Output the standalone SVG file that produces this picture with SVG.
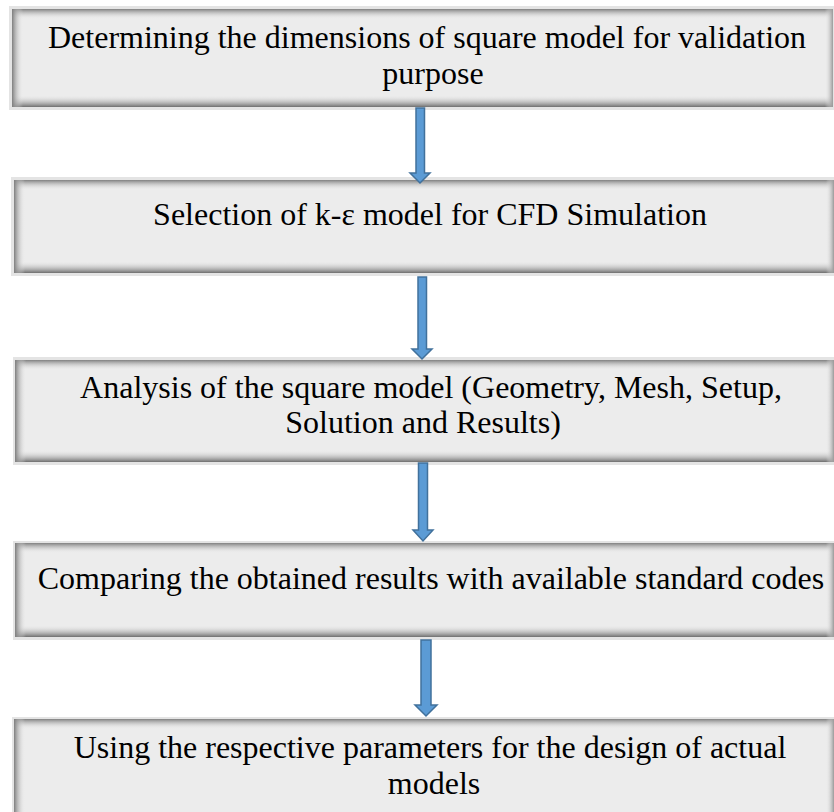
<svg xmlns="http://www.w3.org/2000/svg" width="834" height="812" viewBox="0 0 834 812">
<defs>
<linearGradient id="gTop" x1="0" y1="0" x2="0" y2="1"><stop offset="0" stop-color="#808080"/><stop offset="1" stop-color="#ececec" stop-opacity="0"/></linearGradient>
<linearGradient id="gBot" x1="0" y1="1" x2="0" y2="0"><stop offset="0" stop-color="#6e6e6e"/><stop offset="1" stop-color="#ececec" stop-opacity="0"/></linearGradient>
<linearGradient id="gLeft" x1="0" y1="0" x2="1" y2="0"><stop offset="0" stop-color="#7e7e7e"/><stop offset="1" stop-color="#ececec" stop-opacity="0"/></linearGradient>
<linearGradient id="gRight" x1="1" y1="0" x2="0" y2="0"><stop offset="0" stop-color="#999999"/><stop offset="1" stop-color="#ececec" stop-opacity="0"/></linearGradient>
</defs>
<style>
.frame{fill:#e4e4e4}
.box{fill:#ececec}
.st{fill:url(#gTop)}
.sb{fill:url(#gBot)}
.sl{fill:url(#gLeft)}
.sr{fill:url(#gRight)}
.t{font-family:"Liberation Serif","Times New Roman",serif;font-size:32px;fill:#000;text-anchor:middle}
.arr{fill:#5b9bd5;stroke:#41719c;stroke-width:1.5}
</style>
<rect width="834" height="812" fill="#fff"/>
<g id="node1">
<rect class="frame" x="9" y="6" width="825" height="104"/>
<rect class="box" x="12" y="9" width="821" height="98"/>
<rect class="st" x="12" y="9" width="821" height="10"/>
<rect class="sb" x="12" y="95" width="821" height="12"/>
<rect class="sl" x="12" y="9" width="11" height="98"/>
<rect class="sr" x="825" y="9" width="8" height="98"/>
<text class="t" x="427" y="48">Determining the dimensions of square model for validation</text>
<text class="t" x="433" y="84">purpose</text>
</g>
<g id="node2">
<rect class="frame" x="11" y="177" width="823" height="99"/>
<rect class="box" x="14" y="180" width="820" height="93"/>
<rect class="st" x="14" y="180" width="820" height="10"/>
<rect class="sb" x="14" y="261" width="820" height="12"/>
<rect class="sl" x="14" y="180" width="11" height="93"/>
<rect class="sr" x="826" y="180" width="8" height="93"/>
<text class="t" x="430" y="225">Selection of k-ε model for CFD Simulation</text>
</g>
<g id="node3">
<rect class="frame" x="13" y="357" width="821" height="108"/>
<rect class="box" x="15" y="360" width="819" height="102"/>
<rect class="st" x="15" y="360" width="819" height="10"/>
<rect class="sb" x="15" y="450" width="819" height="12"/>
<rect class="sl" x="15" y="360" width="11" height="102"/>
<rect class="sr" x="826" y="360" width="8" height="102"/>
<text class="t" x="431" y="398">Analysis of the square model (Geometry, Mesh, Setup,</text>
<text class="t" x="423" y="433">Solution and Results)</text>
</g>
<g id="node4">
<rect class="frame" x="13" y="541" width="821" height="99"/>
<rect class="box" x="15" y="543" width="819" height="94"/>
<rect class="st" x="15" y="543" width="819" height="10"/>
<rect class="sb" x="15" y="625" width="819" height="12"/>
<rect class="sl" x="15" y="543" width="11" height="94"/>
<rect class="sr" x="826" y="543" width="8" height="94"/>
<text class="t" x="431" y="589">Comparing the obtained results with available standard codes</text>
</g>
<g id="node5">
<rect class="frame" x="12" y="717" width="822" height="95"/>
<rect class="box" x="14" y="719" width="820" height="93"/>
<rect class="st" x="14" y="719" width="820" height="10"/>
<rect class="sl" x="14" y="719" width="11" height="93"/>
<rect class="sr" x="826" y="719" width="8" height="93"/>
<text class="t" x="430" y="758">Using the respective parameters for the design of actual</text>
<text class="t" x="434" y="794">models</text>
</g>
<g id="connectors">
<path class="arr" d="M416,108 H424.5 V173 H430 L420,183 L410,173 H416 Z"/>
<path class="arr" d="M418,277 H426.5 V349 H432 L422,359 L412,349 H418 Z"/>
<path class="arr" d="M418.5,463 H427.5 V530 H433 L423,541 L413,530 H418.5 Z"/>
<path class="arr" d="M421,640 H431 V705 H437 L426,716 L415,705 H421 Z"/>
</g>
</svg>
